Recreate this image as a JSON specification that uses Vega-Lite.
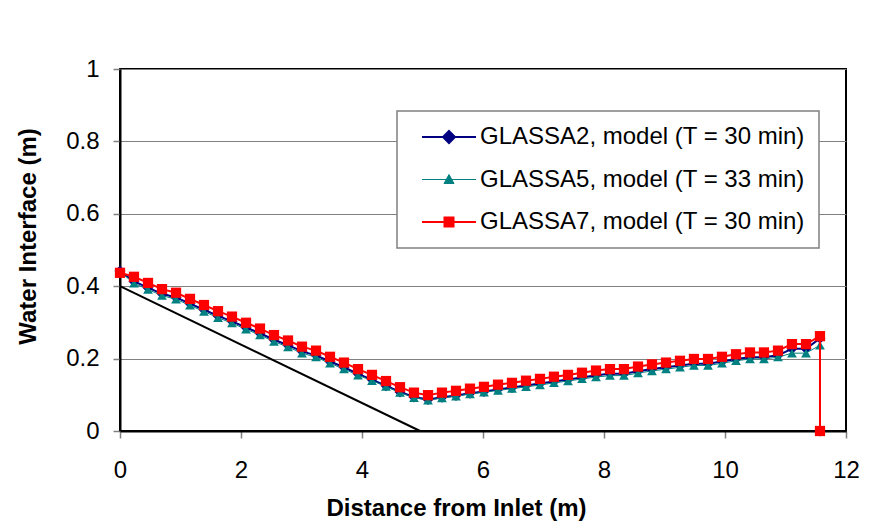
{
  "$schema": "https://vega.github.io/schema/vega-lite/v6.json",
  "width": 726,
  "height": 362,
  "autosize": {"type": "none"},
  "padding": {"left": 120, "top": 69, "right": 28, "bottom": 100},
  "background": "white",
  "config": {
    "view": {"stroke": "black", "strokeWidth": 2},
    "font": "Liberation Sans"
  },
  "datasets": {
    "slope": [{"x": 0, "y": 0.4}, {"x": 4.96, "y": 0}],
    "series": [
      {"s":"GLASSA2","i":0,"x":0,"y":0.442},{"s":"GLASSA2","i":1,"x":0.231,"y":0.413},{"s":"GLASSA2","i":2,"x":0.463,"y":0.396},{"s":"GLASSA2","i":3,"x":0.694,"y":0.379},{"s":"GLASSA2","i":4,"x":0.926,"y":0.369},{"s":"GLASSA2","i":5,"x":1.157,"y":0.352},{"s":"GLASSA2","i":6,"x":1.388,"y":0.335},{"s":"GLASSA2","i":7,"x":1.62,"y":0.318},{"s":"GLASSA2","i":8,"x":1.851,"y":0.303},{"s":"GLASSA2","i":9,"x":2.083,"y":0.286},{"s":"GLASSA2","i":10,"x":2.314,"y":0.27},{"s":"GLASSA2","i":11,"x":2.545,"y":0.252},{"s":"GLASSA2","i":12,"x":2.777,"y":0.237},{"s":"GLASSA2","i":13,"x":3.008,"y":0.22},{"s":"GLASSA2","i":14,"x":3.24,"y":0.209},{"s":"GLASSA2","i":15,"x":3.471,"y":0.192},{"s":"GLASSA2","i":16,"x":3.702,"y":0.176},{"s":"GLASSA2","i":17,"x":3.934,"y":0.158},{"s":"GLASSA2","i":18,"x":4.165,"y":0.142},{"s":"GLASSA2","i":19,"x":4.397,"y":0.125},{"s":"GLASSA2","i":20,"x":4.628,"y":0.108},{"s":"GLASSA2","i":21,"x":4.859,"y":0.094},{"s":"GLASSA2","i":22,"x":5.091,"y":0.087},{"s":"GLASSA2","i":23,"x":5.322,"y":0.093},{"s":"GLASSA2","i":24,"x":5.554,"y":0.098},{"s":"GLASSA2","i":25,"x":5.785,"y":0.104},{"s":"GLASSA2","i":26,"x":6.016,"y":0.109},{"s":"GLASSA2","i":27,"x":6.248,"y":0.115},{"s":"GLASSA2","i":28,"x":6.479,"y":0.12},{"s":"GLASSA2","i":29,"x":6.711,"y":0.126},{"s":"GLASSA2","i":30,"x":6.942,"y":0.131},{"s":"GLASSA2","i":31,"x":7.173,"y":0.137},{"s":"GLASSA2","i":32,"x":7.405,"y":0.142},{"s":"GLASSA2","i":33,"x":7.636,"y":0.148},{"s":"GLASSA2","i":34,"x":7.868,"y":0.154},{"s":"GLASSA2","i":35,"x":8.099,"y":0.158},{"s":"GLASSA2","i":36,"x":8.33,"y":0.158},{"s":"GLASSA2","i":37,"x":8.562,"y":0.165},{"s":"GLASSA2","i":38,"x":8.793,"y":0.171},{"s":"GLASSA2","i":39,"x":9.025,"y":0.176},{"s":"GLASSA2","i":40,"x":9.256,"y":0.181},{"s":"GLASSA2","i":41,"x":9.487,"y":0.186},{"s":"GLASSA2","i":42,"x":9.719,"y":0.186},{"s":"GLASSA2","i":43,"x":9.95,"y":0.192},{"s":"GLASSA2","i":44,"x":10.182,"y":0.199},{"s":"GLASSA2","i":45,"x":10.413,"y":0.204},{"s":"GLASSA2","i":46,"x":10.644,"y":0.204},{"s":"GLASSA2","i":47,"x":10.876,"y":0.209},{"s":"GLASSA2","i":48,"x":11.107,"y":0.227},{"s":"GLASSA2","i":49,"x":11.339,"y":0.227},{"s":"GLASSA2","i":50,"x":11.57,"y":0.256},{"s":"GLASSA2","i":51,"x":11.57,"y":0},
      {"s":"GLASSA5","i":0,"x":0,"y":0.44},{"s":"GLASSA5","i":1,"x":0.231,"y":0.408},{"s":"GLASSA5","i":2,"x":0.463,"y":0.391},{"s":"GLASSA5","i":3,"x":0.694,"y":0.374},{"s":"GLASSA5","i":4,"x":0.926,"y":0.364},{"s":"GLASSA5","i":5,"x":1.157,"y":0.347},{"s":"GLASSA5","i":6,"x":1.388,"y":0.33},{"s":"GLASSA5","i":7,"x":1.62,"y":0.313},{"s":"GLASSA5","i":8,"x":1.851,"y":0.298},{"s":"GLASSA5","i":9,"x":2.083,"y":0.281},{"s":"GLASSA5","i":10,"x":2.314,"y":0.265},{"s":"GLASSA5","i":11,"x":2.545,"y":0.247},{"s":"GLASSA5","i":12,"x":2.777,"y":0.232},{"s":"GLASSA5","i":13,"x":3.008,"y":0.215},{"s":"GLASSA5","i":14,"x":3.24,"y":0.204},{"s":"GLASSA5","i":15,"x":3.471,"y":0.187},{"s":"GLASSA5","i":16,"x":3.702,"y":0.171},{"s":"GLASSA5","i":17,"x":3.934,"y":0.154},{"s":"GLASSA5","i":18,"x":4.165,"y":0.139},{"s":"GLASSA5","i":19,"x":4.397,"y":0.123},{"s":"GLASSA5","i":20,"x":4.628,"y":0.106},{"s":"GLASSA5","i":21,"x":4.859,"y":0.092},{"s":"GLASSA5","i":22,"x":5.091,"y":0.085},{"s":"GLASSA5","i":23,"x":5.322,"y":0.091},{"s":"GLASSA5","i":24,"x":5.554,"y":0.096},{"s":"GLASSA5","i":25,"x":5.785,"y":0.102},{"s":"GLASSA5","i":26,"x":6.016,"y":0.107},{"s":"GLASSA5","i":27,"x":6.248,"y":0.112},{"s":"GLASSA5","i":28,"x":6.479,"y":0.117},{"s":"GLASSA5","i":29,"x":6.711,"y":0.122},{"s":"GLASSA5","i":30,"x":6.942,"y":0.127},{"s":"GLASSA5","i":31,"x":7.173,"y":0.133},{"s":"GLASSA5","i":32,"x":7.405,"y":0.138},{"s":"GLASSA5","i":33,"x":7.636,"y":0.144},{"s":"GLASSA5","i":34,"x":7.868,"y":0.149},{"s":"GLASSA5","i":35,"x":8.099,"y":0.153},{"s":"GLASSA5","i":36,"x":8.33,"y":0.153},{"s":"GLASSA5","i":37,"x":8.562,"y":0.16},{"s":"GLASSA5","i":38,"x":8.793,"y":0.166},{"s":"GLASSA5","i":39,"x":9.025,"y":0.171},{"s":"GLASSA5","i":40,"x":9.256,"y":0.176},{"s":"GLASSA5","i":41,"x":9.487,"y":0.181},{"s":"GLASSA5","i":42,"x":9.719,"y":0.181},{"s":"GLASSA5","i":43,"x":9.95,"y":0.187},{"s":"GLASSA5","i":44,"x":10.182,"y":0.194},{"s":"GLASSA5","i":45,"x":10.413,"y":0.199},{"s":"GLASSA5","i":46,"x":10.644,"y":0.199},{"s":"GLASSA5","i":47,"x":10.876,"y":0.204},{"s":"GLASSA5","i":48,"x":11.107,"y":0.215},{"s":"GLASSA5","i":49,"x":11.339,"y":0.215},{"s":"GLASSA5","i":50,"x":11.57,"y":0.237},{"s":"GLASSA5","i":51,"x":11.57,"y":0},
      {"s":"GLASSA7","i":0,"x":0,"y":0.437},{"s":"GLASSA7","i":1,"x":0.231,"y":0.426},{"s":"GLASSA7","i":2,"x":0.463,"y":0.409},{"s":"GLASSA7","i":3,"x":0.694,"y":0.392},{"s":"GLASSA7","i":4,"x":0.926,"y":0.382},{"s":"GLASSA7","i":5,"x":1.157,"y":0.365},{"s":"GLASSA7","i":6,"x":1.388,"y":0.348},{"s":"GLASSA7","i":7,"x":1.62,"y":0.331},{"s":"GLASSA7","i":8,"x":1.851,"y":0.316},{"s":"GLASSA7","i":9,"x":2.083,"y":0.299},{"s":"GLASSA7","i":10,"x":2.314,"y":0.283},{"s":"GLASSA7","i":11,"x":2.545,"y":0.265},{"s":"GLASSA7","i":12,"x":2.777,"y":0.25},{"s":"GLASSA7","i":13,"x":3.008,"y":0.233},{"s":"GLASSA7","i":14,"x":3.24,"y":0.222},{"s":"GLASSA7","i":15,"x":3.471,"y":0.205},{"s":"GLASSA7","i":16,"x":3.702,"y":0.189},{"s":"GLASSA7","i":17,"x":3.934,"y":0.171},{"s":"GLASSA7","i":18,"x":4.165,"y":0.155},{"s":"GLASSA7","i":19,"x":4.397,"y":0.138},{"s":"GLASSA7","i":20,"x":4.628,"y":0.121},{"s":"GLASSA7","i":21,"x":4.859,"y":0.106},{"s":"GLASSA7","i":22,"x":5.091,"y":0.099},{"s":"GLASSA7","i":23,"x":5.322,"y":0.106},{"s":"GLASSA7","i":24,"x":5.554,"y":0.111},{"s":"GLASSA7","i":25,"x":5.785,"y":0.117},{"s":"GLASSA7","i":26,"x":6.016,"y":0.122},{"s":"GLASSA7","i":27,"x":6.248,"y":0.128},{"s":"GLASSA7","i":28,"x":6.479,"y":0.133},{"s":"GLASSA7","i":29,"x":6.711,"y":0.139},{"s":"GLASSA7","i":30,"x":6.942,"y":0.144},{"s":"GLASSA7","i":31,"x":7.173,"y":0.15},{"s":"GLASSA7","i":32,"x":7.405,"y":0.155},{"s":"GLASSA7","i":33,"x":7.636,"y":0.161},{"s":"GLASSA7","i":34,"x":7.868,"y":0.167},{"s":"GLASSA7","i":35,"x":8.099,"y":0.171},{"s":"GLASSA7","i":36,"x":8.33,"y":0.171},{"s":"GLASSA7","i":37,"x":8.562,"y":0.178},{"s":"GLASSA7","i":38,"x":8.793,"y":0.184},{"s":"GLASSA7","i":39,"x":9.025,"y":0.189},{"s":"GLASSA7","i":40,"x":9.256,"y":0.194},{"s":"GLASSA7","i":41,"x":9.487,"y":0.199},{"s":"GLASSA7","i":42,"x":9.719,"y":0.199},{"s":"GLASSA7","i":43,"x":9.95,"y":0.205},{"s":"GLASSA7","i":44,"x":10.182,"y":0.212},{"s":"GLASSA7","i":45,"x":10.413,"y":0.217},{"s":"GLASSA7","i":46,"x":10.644,"y":0.217},{"s":"GLASSA7","i":47,"x":10.876,"y":0.222},{"s":"GLASSA7","i":48,"x":11.107,"y":0.24},{"s":"GLASSA7","i":49,"x":11.339,"y":0.24},{"s":"GLASSA7","i":50,"x":11.57,"y":0.262},{"s":"GLASSA7","i":51,"x":11.57,"y":0}
    ]
  },
  "encoding": {
    "x": {
      "field": "x", "type": "quantitative",
      "scale": {"domain": [0, 12], "nice": false, "zero": false},
      "axis": {
        "title": "Distance from Inlet (m)",
        "values": [0, 2, 4, 6, 8, 10, 12],
        "format": "~g",
        "grid": false,
        "domainColor": "black", "domainWidth": 2,
        "tickColor": "#808080", "tickWidth": 1.5, "tickSize": 7,
        "labelFont": "Liberation Sans", "labelFontSize": 24, "labelColor": "black", "labelPadding": 20,
        "labelFlush": false, "labelOverlap": false,
        "titleFont": "Liberation Sans", "titleFontSize": 24, "titleFontWeight": "bold", "titleColor": "black",
        "titleX": 336, "titleY": 84, "titleBaseline": "alphabetic", "titleAlign": "center", "titleAnchor": null
      }
    },
    "y": {
      "field": "y", "type": "quantitative",
      "scale": {"domain": [0, 1], "nice": false},
      "axis": {
        "title": "Water Interface (m)",
        "values": [0, 0.2, 0.4, 0.6, 0.8, 1],
        "format": "~g",
        "grid": true, "gridColor": "#808080", "gridWidth": 1.2, "gridOpacity": 1,
        "domainColor": "black", "domainWidth": 2,
        "tickColor": "#808080", "tickWidth": 1.5, "tickSize": 7,
        "labelFont": "Liberation Sans", "labelFontSize": 24, "labelColor": "black", "labelPadding": 14,
        "labelFlush": false, "labelOverlap": false,
        "titleFont": "Liberation Sans", "titleFontSize": 24, "titleFontWeight": "bold", "titleColor": "black",
        "titleX": -85, "titleY": 167, "titleBaseline": "alphabetic", "titleAlign": "center", "titleAngle": 270, "titleAnchor": null
      }
    },
    "color": {
      "field": "s", "type": "nominal",
      "scale": {"domain": ["GLASSA2", "GLASSA5", "GLASSA7"], "range": ["#000080", "#008080", "#FF0000"]},
      "legend": {
        "title": null,
        "orient": "none",
        "legendX": 277,
        "legendY": 42,
        "padding": 14,
        "fillColor": "white",
        "strokeColor": "#808080",
        "symbolSize": 400,
        "symbolOffset": 26,
        "labelOffset": 19,
        "rowPadding": 18.5,
        "labelFont": "Liberation Sans",
        "labelFontSize": 24,
        "labelColor": "black",
        "labelLimit": 0,
        "labelExpr": "datum.label + ', model (T = ' + (datum.label === 'GLASSA5' ? '33' : '30') + ' min)'",
        "encoding": {
          "legend": {"strokeWidth": {"value": 1.5}},
          "symbols": {
            "shape": {"value": {"expr": "datum.value === 'GLASSA2' ? 'M-2.7,0H2.7M0,-0.6L0.6,0L0,0.6L-0.6,0Z' : (datum.value === 'GLASSA5' ? 'M-2.7,0H2.7M0,-0.5L0.5,0.4L-0.5,0.4Z' : 'M-2.7,0H2.7M-0.45,-0.45H0.45V0.45H-0.45Z')"}},
            "fill": {"value": {"expr": "datum.value === 'GLASSA2' ? '#000080' : (datum.value === 'GLASSA5' ? '#008080' : '#FF0000')"}},
            "stroke": {"value": {"expr": "datum.value === 'GLASSA2' ? '#000080' : (datum.value === 'GLASSA5' ? '#008080' : '#FF0000')"}},
            "strokeWidth": {"value": {"expr": "datum.value === 'GLASSA5' ? 1 : 2"}},
            "opacity": {"value": 1},
            "fillOpacity": {"value": 1}
          }
        }
      }
    }
  },
  "layer": [
    {
      "data": {"name": "slope"},
      "mark": {"type": "line", "color": "black", "strokeWidth": 2},
      "encoding": {"color": {"value": "black"}}
    },
    {
      "data": {"name": "series"},
      "transform": [{"filter": "datum.s === 'GLASSA2'"}],
      "mark": {"type": "line", "strokeWidth": 2},
      "encoding": {"order": {"field": "i", "type": "quantitative"}}
    },
    {
      "data": {"name": "series"},
      "transform": [{"filter": "datum.s === 'GLASSA2'"}],
      "mark": {"type": "point", "shape": "diamond", "filled": true, "opacity": 1, "size": 120, "strokeWidth": 1}
    },
    {
      "data": {"name": "series"},
      "transform": [{"filter": "datum.s === 'GLASSA5'"}],
      "mark": {"type": "line", "strokeWidth": 1},
      "encoding": {"order": {"field": "i", "type": "quantitative"}}
    },
    {
      "data": {"name": "series"},
      "transform": [{"filter": "datum.s === 'GLASSA5'"}],
      "mark": {"type": "point", "shape": "triangle-up", "filled": true, "opacity": 1, "size": 95, "strokeWidth": 1}
    },
    {
      "data": {"name": "series"},
      "transform": [{"filter": "datum.s === 'GLASSA7'"}],
      "mark": {"type": "line", "strokeWidth": 2},
      "encoding": {"order": {"field": "i", "type": "quantitative"}}
    },
    {
      "data": {"name": "series"},
      "transform": [{"filter": "datum.s === 'GLASSA7'"}],
      "mark": {"type": "point", "shape": "square", "filled": true, "opacity": 1, "size": 105, "strokeWidth": 1}
    }
  ]
}
